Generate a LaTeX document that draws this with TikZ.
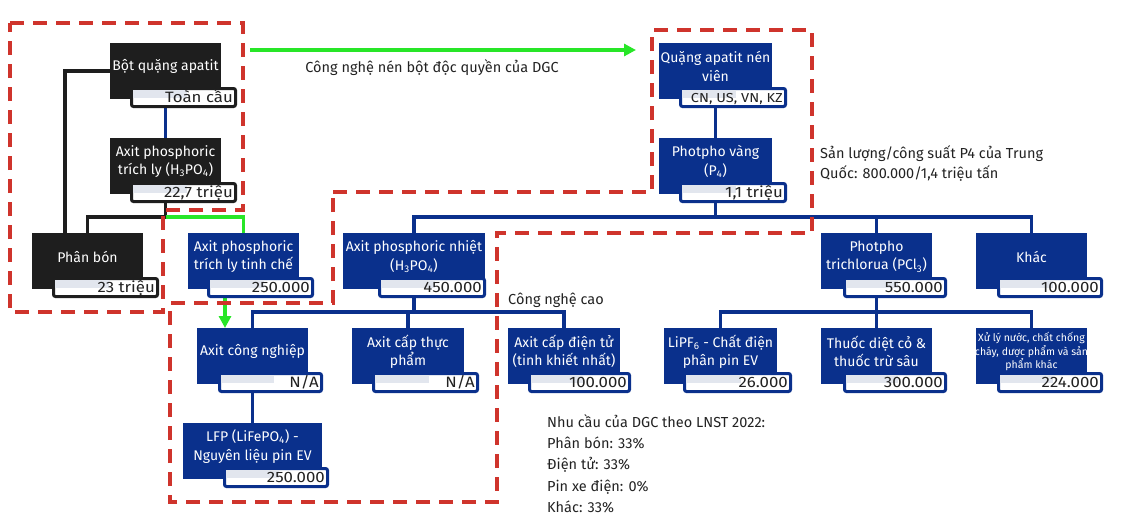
\documentclass[tikz,border=0pt]{standalone}
\usepackage{fontspec}
\setmainfont{Fira Sans}
\newfontfamily\valfont[FakeStretch=1.12]{Fira Sans}
\usetikzlibrary{calc,arrows.meta,backgrounds}
\definecolor{navy}{RGB}{10,48,140}
\definecolor{boxblack}{RGB}{30,30,30}
\definecolor{dred}{RGB}{207,52,44}
\definecolor{lgreen}{RGB}{40,230,40}
\definecolor{band}{RGB}{226,230,238}
\definecolor{ink}{RGB}{34,34,34}
\tikzset{
  mainbox/.style={inner sep=0pt, outer sep=0pt, anchor=north west, minimum height=56pt},
  btext/.style={text=white, font=\fontsize{14}{18.5}\selectfont, align=center, inner sep=0pt},
  valbox/.style={line width=3pt, fill=white, rounded corners=2pt, inner sep=0pt, outer sep=0pt, anchor=north west, minimum height=18pt},
  vtext/.style={font=\valfont\fontsize{15}{15}\selectfont, inner sep=0pt, anchor=base east, text=ink},
  conn/.style={line width=3.5pt},
  nv/.style={conn, draw=navy},
  bk/.style={conn, draw=boxblack},
  gr/.style={conn, draw=lgreen},
  garrow/.style={gr, -{Triangle[length=12pt,width=12pt]}},
  reddash/.style={draw=dred, line width=4pt, dash pattern=on 14pt off 9pt},
  note/.style={font=\fontsize{14.5}{20}\selectfont, text=ink, inner sep=0pt, anchor=base west},
}
\newcommand\pbox[9]{%
  \node[mainbox, fill=#7, minimum width={(#4-#2)*1pt}] (#1) at (#2,#3) {};
  \node[btext] (#1t) at ({(#2+#4)/2},{#3+23.5}) {#8};
  \node[valbox, draw=#7, minimum width={(#6-#5-3)*1pt}] (#1v) at ({#5+1.5},{#3+45.5}) {};
  \fill[band] ({#5+3},{#3+47}) rectangle ({#5+3+0.5*(#6-#5)},{#3+54.5});
  \node[vtext] (#1n) at ({#6-4},{#3+59.5}) {#9};
}
\begin{document}
\begin{tikzpicture}[x=1pt,y=-1pt]
\useasboundingbox (0,0) rectangle (1127,522);

\pbox{bot}{110}{43}{221}{130}{237}{boxblack}{Bột quặng apatit}{Toàn cầu}
\pbox{tl}{110}{138}{221}{130}{237}{boxblack}{Axit phosphoric\\trích ly (H\textsubscript{3}PO\textsubscript{4})}{22,7 triệu}
\pbox{pb}{32}{233}{143}{52}{159}{boxblack}{Phân bón}{23 triệu}
\pbox{tc}{188}{233}{299}{207}{314}{navy}{Axit phosphoric\\trích ly tinh chế}{250.000}
\begin{scope}[vtext/.append style={font=\valfont\fontsize{13}{13}\selectfont}]
\pbox{qa}{659}{43}{772}{679}{787}{navy}{Quặng apatit nén\\viên}{CN, US, VN, KZ}
\end{scope}
\pbox{pv}{659}{138}{772}{679}{787}{navy}{Photpho vàng\\(P\textsubscript{4})}{1,1 triệu}
\pbox{nh}{343}{233}{485}{378}{486}{navy}{Axit phosphoric nhiệt\\(H\textsubscript{3}PO\textsubscript{4})}{450.000}
\pbox{pcl}{821}{233}{932}{843}{947}{navy}{Photpho\\trichlorua (PCl\textsubscript{3})}{550.000}
\pbox{kh}{976}{233}{1087}{997}{1103}{navy}{Khác}{100.000}
\pbox{acn}{197}{328}{308}{218}{323}{navy}{Axit công nghiệp}{N/A}
\pbox{tp}{352}{328}{464}{372}{479}{navy}{Axit cấp thực\\phẩm}{N/A}
\pbox{dt}{508}{328}{620}{528}{631}{navy}{Axit cấp điện tử\\(tinh khiết nhất)}{100.000}
\pbox{lipf}{664}{328}{777}{683}{792}{navy}{LiPF\textsubscript{6} - Chất điện\\phân pin EV}{26.000}
\pbox{tdc}{821}{328}{932}{843}{947}{navy}{Thuốc diệt cỏ \&\\thuốc trừ sâu}{300.000}
\begin{scope}[btext/.append style={font=\fontsize{10.5}{12}\selectfont}]
\pbox{xl}{976}{328}{1087}{997}{1103}{navy}{Xử lý nước, chất chống\\cháy, dược phẩm và sản\\phẩm khác}{224.000}
\end{scope}
\pbox{lfp}{183}{423}{322}{223}{329}{navy}{LFP (LiFePO\textsubscript{4}) -\\Nguyên liệu pin EV}{250.000}

\coordinate (j1) at (165.5,217);
\coordinate (b1) at (716,217);
\coordinate (b2) at (414,312);
\coordinate (g1) at (250,50);
\coordinate (g2) at (636,50);
\coordinate (g3) at ($(acn.north west)+(28,0)$);

\begin{scope}[on background layer]
  \draw[bk] (bot.west) -| ($(pb.north west)+(33,0)$);
  \draw[nv] (botv.south -| bot.south) -- (tl.north);
  \draw[bk] (tlv.south -| tl.south) -- (j1) -| (pb.north);
  \draw[gr] (j1) -| (tc.north);
  \draw[garrow] (g1) -- (g2);
  \draw[garrow] (tcv.south -| g3) -- (g3);
  \draw[nv] (qav.south -| qa.south) -- (pv.north);
  \draw[nv] (pvv.south -| pv.south) -- (pv.south |- b1);
  \draw[nv] (nh.north) |- (kh.north |- b1) -- (kh.north);
  \draw[nv] (pcl.north) -- (pcl.north |- b1);
  \draw[nv] (nhv.south -| nh.south) -- (nh.south |- b2);
  \draw[nv] (acn.north) |- (dt.north |- b2) -- (dt.north);
  \draw[nv] (tp.north) -- (tp.north |- b2);
  \draw[nv] (acnv.south -| acn.south) -- (lfp.north);
  \draw[nv] (pclv.south -| pcl.south) -- (pcl.south |- b2);
  \draw[nv] (lipf.north) |- (xl.north |- b2) -- (xl.north);
  \draw[nv] (tdc.north) -- (tdc.north |- b2);
\end{scope}

\node[note, anchor=base] (tn) at (432,72) {Công nghệ nén bột độc quyền của DGC};
\node[note] (p4a) at (820,158) {Sản lượng/công suất P4 của Trung};
\node[note] (p4b) at (820,178) {Quốc: 800.000/1,4 triệu tấn};
\node[note] (hc) at (508,304) {Công nghệ cao};
\node[note] (n1) at (547,427) {Nhu cầu của DGC theo LNST 2022:};
\node[note] (n2) at (547,448) {Phân bón: 33\%};
\node[note] (n3) at (547,469.5) {Điện tử: 33\%};
\node[note] (n4) at (547,491) {Pin xe điện: 0\%};
\node[note] (n5) at (547,512) {Khác: 33\%};

\draw[reddash] (10,23) -- (243,23) -- (243,210) -- (163,210) -- (163,312) -- (10,312) -- cycle;
\draw[reddash] (333,192) -- (652,192) -- (652,30) -- (812,30) -- (812,233) -- (497,233) -- (497,502) -- (170,502) -- (170,303) -- (333,303) -- cycle;
\end{tikzpicture}
\end{document}
